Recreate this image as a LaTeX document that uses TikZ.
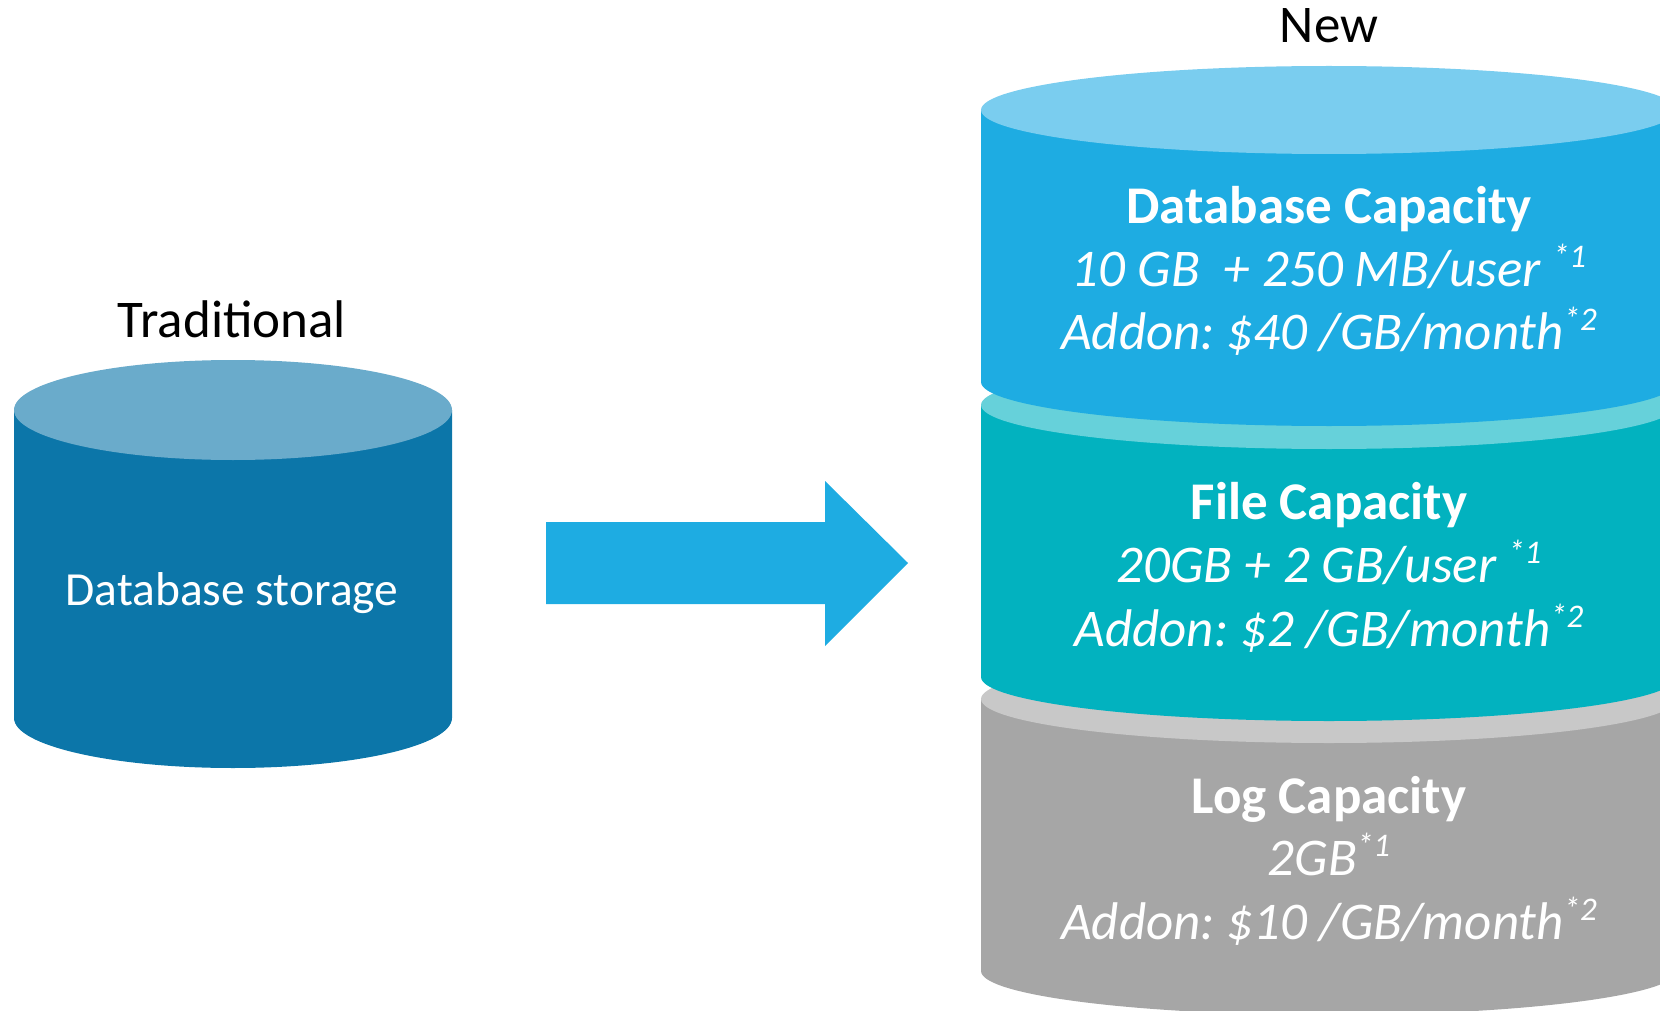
\documentclass[tikz,border=0pt]{standalone}
\usepackage{fontspec}
\setmainfont{Carlito}
\frenchspacing
\definecolor{dkblue}{HTML}{0C76A9}
\definecolor{dkbluetop}{HTML}{6AABCB}
\definecolor{skyblue}{HTML}{1EACE2}
\definecolor{skybluetop}{HTML}{7ACDEF}
\definecolor{tealbody}{HTML}{02B2BF}
\definecolor{tealtop}{HTML}{66D1DA}
\definecolor{graybody}{HTML}{A6A6A6}
\definecolor{graytop}{HTML}{C8C8C8}
\newcommand\mycyl[7]{%
  \fill[#6] (#1-#2,-#3) -- (#1-#2,-#4) arc[start angle=180,end angle=360,x radius=#2,y radius=#5] -- (#1+#2,-#3) -- cycle;
  \fill[#7] (#1,-#3) ellipse[x radius=#2,y radius=#5];
}
\newcommand\sups[1]{\raisebox{0.34em}{\fontsize{33}{33}\selectfont #1}}
\tikzset{
  heading/.style={anchor=base,text=black,font=\fontsize{53}{60}\selectfont,inner sep=0pt},
  title/.style={anchor=base,text=white,font=\fontsize{53}{60}\selectfont\bfseries,inner sep=0pt},
  line/.style={anchor=base,text=white,font=\fontsize{53}{60}\selectfont\itshape,inner sep=0pt},
}
\begin{document}
\begin{tikzpicture}[x=1pt,y=1pt]
\useasboundingbox (0,0) rectangle (1660,-1011);
\clip (0,0) rectangle (1660,-1011);
% left cylinder
\mycyl{233}{219}{410}{718}{50}{dkblue}{dkbluetop}
\node[heading] (trad) at (232,-337) {Traditional};
\node[anchor=base,text=white,font=\fontsize{47.5}{50}\selectfont,inner sep=0pt] (dbs) at (232,-605) {Database storage};
% arrow
\fill[skyblue] (546,-522) -- (825,-522) -- (825,-481) -- (908,-563) -- (825,-646) -- (825,-604) -- (546,-604) -- cycle;
% right stacked cylinder
\mycyl{1329}{348}{699}{971}{44}{graybody}{graytop}
\mycyl{1329}{348}{405}{677}{44}{tealbody}{tealtop}
\mycyl{1329}{348}{110}{382}{44}{skyblue}{skybluetop}
\node[heading] (new) at (1329,-43) {New};
\node[title] (dbc) at (1329,-224) {Database Capacity};
\node[line] (dbc1) at (1329,-286) {10 GB\ \ + 250 MB/user \sups{*1}};
\node[line] (dbc2) at (1329,-349) {Addon: \$40 /GB/month\sups{*2}};
\node[title] (fc) at (1329,-519) {File Capacity};
\node[line] (fc1) at (1329,-582) {20GB + 2 GB/user \sups{*1}};
\node[line] (fc2) at (1329,-646) {Addon: \$2 /GB/month\sups{*2}};
\node[title] (lc) at (1329,-813) {Log Capacity};
\node[line] (lc1) at (1329,-875) {2GB\sups{*1}};
\node[line] (lc2) at (1329,-939) {Addon: \$10 /GB/month\sups{*2}};
\end{tikzpicture}
\end{document}
